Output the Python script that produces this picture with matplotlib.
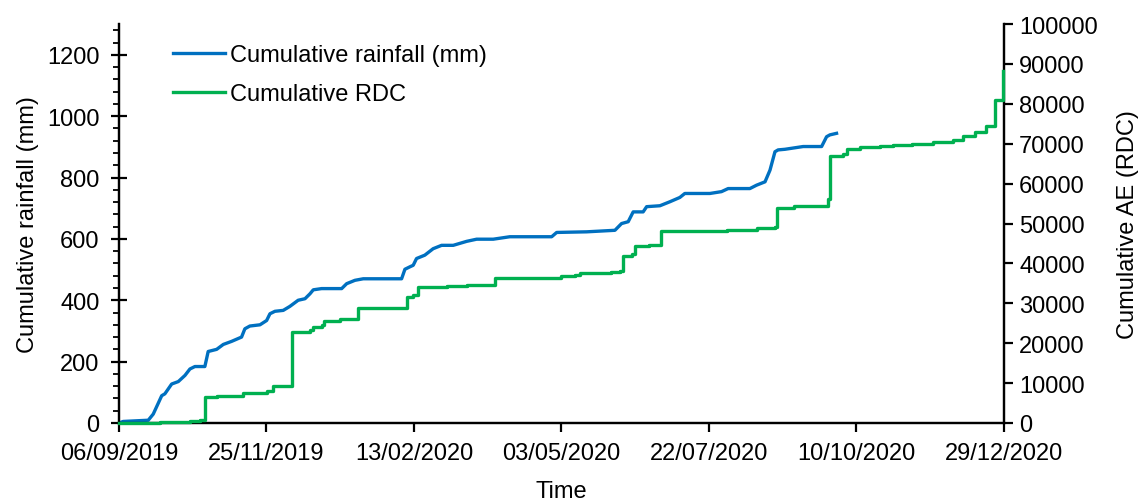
import matplotlib
matplotlib.use('Agg')
import matplotlib.pyplot as plt
import matplotlib.dates as mdates
from matplotlib.ticker import MultipleLocator, FixedLocator
import pandas as pd

plt.rcParams['font.family'] = ['Liberation Sans', 'DejaVu Sans']

START = pd.Timestamp('2019-09-06')

# cumulative rainfall (mm), days counted from 06/09/2019
rain_days = [0, 2.3, 15.9, 18.6, 23.2, 24.9, 28.6, 32.2, 35.8, 38.5, 41.2, 46.6,
             48.4, 53.0, 56.6, 61.1, 66.5, 68.3, 71.0, 76.5, 80.1, 81.9, 84.6,
             89.1, 92.7, 97.2, 100.9, 103.6, 105.4, 109.9, 120.8, 123.5, 128.0,
             132.5, 153.3, 155.1, 157.8, 159.6, 161.4, 165.9, 170.4, 175.0,
             181.3, 188.6, 194.0, 203.0, 212.0, 234.7, 237.4, 253.6, 269.0,
             272.6, 276.2, 278.9, 284.3, 286.2, 293.4, 298.8, 304.2, 306.9,
             320.5, 326.8, 330.4, 342.2, 345.8, 350.4, 353.1, 355.8, 357.5,
             361.2, 371.1, 381.1, 383.8, 385.6, 389.2]
rain_mm = [0, 5, 9, 29, 89, 95, 127, 135, 155, 176, 184, 184,
           233, 240, 256, 266, 280, 307, 316, 320, 334, 356, 364,
           367, 380, 400, 405, 421, 434, 438, 438, 454, 465,
           470, 470, 501, 509, 514, 536, 547, 568, 579,
           579, 592, 599, 599, 607, 607, 621, 623, 628,
           650, 656, 688, 688, 705, 708, 721, 735, 748,
           748, 754, 764, 764, 775, 786, 824, 884, 890,
           892, 901, 901, 933, 939, 944]

# cumulative AE hits (RDC), step changes
rdc_days = [0, 22.5, 38.5, 44.0, 46.6, 53.0, 67.5, 80.1, 83.8, 93.6, 103.6,
            105.4, 110.0, 111.0, 120.0, 129.8, 156.5, 159.6, 162.2, 177.8,
            188.6, 204.0, 240.0, 247.4, 249.9, 266.8, 271.7, 273.4, 278.0,
            279.9, 287.6, 294.2, 329.6, 345.8, 355.8, 356.7, 365.9, 384.6,
            385.6, 392.8, 394.6, 401.8, 412.7, 419.9, 430.0, 441.5, 452.4,
            457.8, 464.2, 470.5, 475.0, 479.6]
rdc_ae = [0, 170, 580, 750, 6440, 6840, 7520, 8090, 9350, 22730, 23300,
          23980, 24560, 25640, 26000, 28740, 31600, 32080, 34000, 34400,
          34660, 36260, 36920, 37090, 37590, 37920, 38170, 41930, 42350,
          44430, 44680, 48190, 48440, 48780, 49030, 53800, 54460, 56130,
          66990, 67410, 68660, 69080, 69330, 69660, 69900, 70330, 71000,
          72000, 72840, 74500, 80940, 88290]

x_ticks = ['06/09/2019', '25/11/2019', '13/02/2020', '03/05/2020',
           '22/07/2020', '10/10/2020', '29/12/2020']

BLUE = '#0070C0'
GREEN = '#00B050'
FS = 17


def to_dates(days):
    return START + pd.to_timedelta(days, unit='D')


fig = plt.figure(figsize=(11.47, 5.02), dpi=100)
ax = fig.add_axes([0.1037, 0.1554, 0.7716, 0.7946])
ax2 = ax.twinx()

l1, = ax.plot(to_dates(rain_days), rain_mm, color=BLUE, lw=2.4,
              label='Cumulative rainfall (mm)', zorder=3)
l2, = ax2.plot(to_dates(rdc_days), rdc_ae, color=GREEN, lw=2.4,
               drawstyle='steps-post', label='Cumulative RDC', zorder=3,
               clip_on=False)

tick_dates = pd.to_datetime(x_ticks, format='%d/%m/%Y')
ax.set_xlim(tick_dates[0], tick_dates[-1])
ax.xaxis.set_major_locator(FixedLocator(mdates.date2num(tick_dates)))
ax.set_xticklabels(x_ticks)

ax.set_ylim(0, 1300)
ax.set_yticks(range(0, 1201, 200))
ax.yaxis.set_minor_locator(MultipleLocator(40))
ax2.set_ylim(0, 100000)
ax2.set_yticks(range(0, 100001, 10000))

for a in (ax, ax2):
    a.spines['top'].set_visible(False)
    for s in a.spines.values():
        s.set_linewidth(1.6)

ax.tick_params(axis='x', direction='out', length=6.5, width=1.6, pad=7, labelsize=FS)
ax.tick_params(axis='y', which='major', direction='inout', length=11, width=1.6, pad=8.5, labelsize=FS)
ax.tick_params(axis='y', which='minor', direction='out', length=4, width=1.3)
ax2.tick_params(axis='y', direction='out', length=6.5, width=1.6, pad=4.5, labelsize=FS)

ax.set_xlabel('Time', fontsize=FS, labelpad=12)
ax.set_ylabel('Cumulative rainfall (mm)', fontsize=FS, labelpad=6)
ax2.set_ylabel('Cumulative AE (RDC)', fontsize=FS, labelpad=14)

fig.legend(handles=[l1, l2], loc='upper left', bbox_to_anchor=(173 / 1147, 1 - 45 / 502),
           frameon=False, fontsize=FS, handlelength=2.2, handletextpad=0.2,
           labelspacing=0.72, borderpad=0, borderaxespad=0)

fig.savefig('out.png', dpi=100)
